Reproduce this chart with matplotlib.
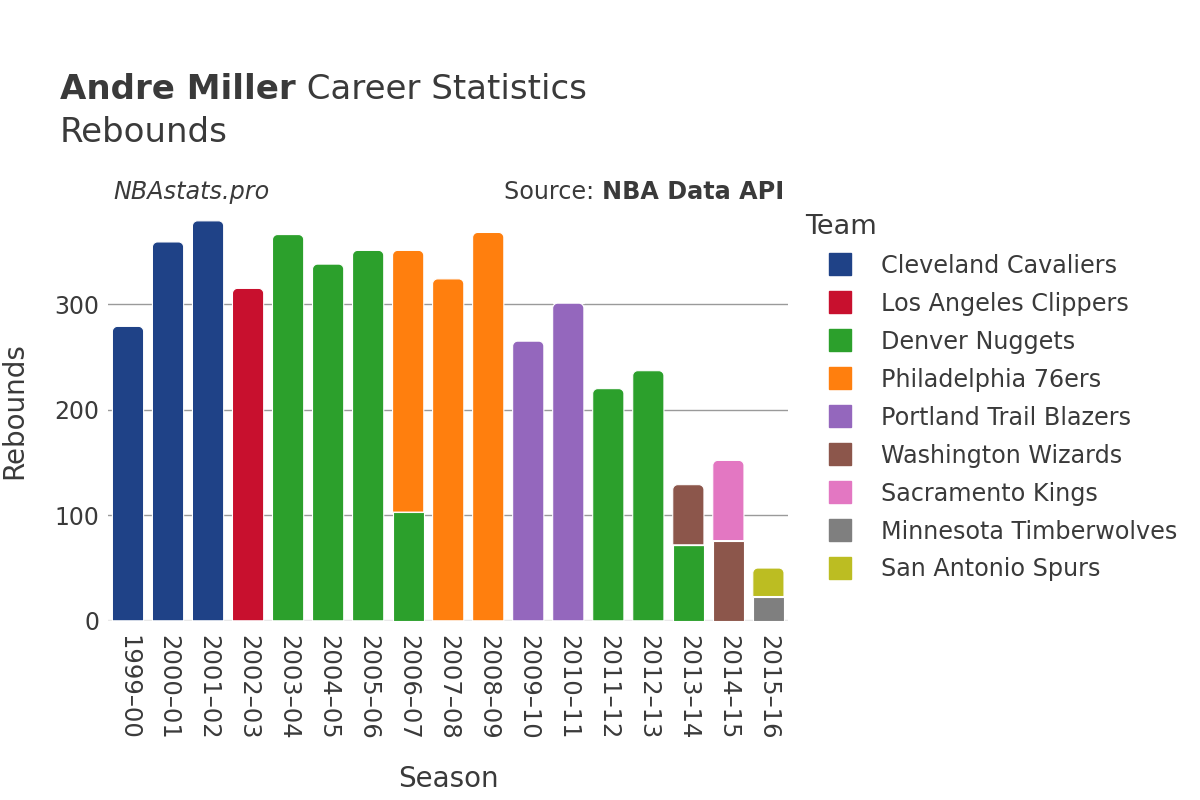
import matplotlib
matplotlib.use("Agg")
import matplotlib.pyplot as plt
from matplotlib.path import Path
from matplotlib.patches import PathPatch
from matplotlib.lines import Line2D
import numpy as np

seasons = ["1999–00", "2000–01", "2001–02", "2002–03", "2003–04", "2004–05",
           "2005–06", "2006–07", "2007–08", "2008–09", "2009–10", "2010–11",
           "2011–12", "2012–13", "2013–14", "2014–15", "2015–16"]
teams = ["Cleveland Cavaliers", "Los Angeles Clippers", "Denver Nuggets",
         "Philadelphia 76ers", "Portland Trail Blazers", "Washington Wizards",
         "Sacramento Kings", "Minnesota Timberwolves", "San Antonio Spurs"]
colors = ["#1f4287", "#c8102e", "#2ca02c", "#ff7f0e", "#9467bd",
          "#8c564b", "#e377c2", "#7f7f7f", "#bcbd22"]

cleveland = [279, 359, 379, 0, 0, 0, 0, 0, 0, 0, 0, 0, 0, 0, 0, 0, 0]
clippers = [0, 0, 0, 315, 0, 0, 0, 0, 0, 0, 0, 0, 0, 0, 0, 0, 0]
denver = [0, 0, 0, 0, 366, 338, 351, 103, 0, 0, 0, 0, 220, 237, 72, 0, 0]
philadelphia = [0, 0, 0, 0, 0, 0, 0, 248, 324, 368, 0, 0, 0, 0, 0, 0, 0]
portland = [0, 0, 0, 0, 0, 0, 0, 0, 0, 0, 265, 301, 0, 0, 0, 0, 0]
washington = [0, 0, 0, 0, 0, 0, 0, 0, 0, 0, 0, 0, 0, 0, 57, 76, 0]
sacramento = [0, 0, 0, 0, 0, 0, 0, 0, 0, 0, 0, 0, 0, 0, 0, 76, 0]
minnesota = [0, 0, 0, 0, 0, 0, 0, 0, 0, 0, 0, 0, 0, 0, 0, 0, 23]
san_antonio = [0, 0, 0, 0, 0, 0, 0, 0, 0, 0, 0, 0, 0, 0, 0, 0, 27]

series = [cleveland, clippers, denver, philadelphia, portland,
          washington, sacramento, minnesota, san_antonio]

TXT = "#3a3a3a"
plt.rcParams['font.family'] = ['DejaVu Sans']

fig = plt.figure(figsize=(12, 8), dpi=100)
ax = fig.add_axes([0.09, 0.224, 0.567, 0.525])

x = np.arange(len(seasons))
bottom = np.zeros(len(seasons))
width = 0.78
rects_by_bar = [[] for _ in seasons]
for vals, col in zip(series, colors):
    v = np.array(vals, dtype=float)
    bars = ax.bar(x, v, width=width, bottom=bottom, color=col,
                  edgecolor="white", linewidth=0.8, zorder=3)
    for i, r in enumerate(bars):
        if v[i] > 0:
            rects_by_bar[i].append(r)
    bottom += v

ax.set_xlim(-0.5, len(seasons) - 0.5)
ax.set_ylim(0, 398)

# round top corners of the topmost segment in each stack
fig.canvas.draw()
inv = ax.transData.inverted()
rpx = 5.0
for stack in rects_by_bar:
    if not stack:
        continue
    r = stack[-1]
    x0, y0 = r.get_x(), r.get_y()
    w, h = r.get_width(), r.get_height()
    p0 = ax.transData.transform((0, 0))
    p1 = inv.transform((p0[0] + rpx, p0[1] + rpx))
    rx, ry = p1[0], p1[1]
    ry = min(ry, h / 2)
    k = 0.55
    verts = [(x0, y0), (x0 + w, y0), (x0 + w, y0 + h - ry),
             (x0 + w, y0 + h - ry + k * ry), (x0 + w - rx + k * rx, y0 + h), (x0 + w - rx, y0 + h),
             (x0 + rx, y0 + h),
             (x0 + rx - k * rx, y0 + h), (x0, y0 + h - ry + k * ry), (x0, y0 + h - ry),
             (x0, y0)]
    codes = [Path.MOVETO, Path.LINETO, Path.LINETO,
             Path.CURVE4, Path.CURVE4, Path.CURVE4,
             Path.LINETO,
             Path.CURVE4, Path.CURVE4, Path.CURVE4,
             Path.CLOSEPOLY]
    patch = PathPatch(Path(verts, codes), facecolor=r.get_facecolor(),
                      edgecolor="white", linewidth=0.8, zorder=3)
    r.set_visible(False)
    ax.add_patch(patch)

for s in ax.spines.values():
    s.set_visible(False)
ax.set_yticks([0, 100, 200, 300])
ax.yaxis.grid(True, color="#9a9a9a", linewidth=1, zorder=0)
ax.axhline(0, color="#e8e8e8", linewidth=2.5, zorder=2)
ax.tick_params(axis="y", length=0, labelsize=17, colors=TXT, pad=6)
ax.tick_params(axis="x", length=0, labelsize=17.5, colors=TXT, pad=10)
ax.set_xticks(x)
ax.set_xticklabels(seasons, rotation=-90)
ax.set_xlabel("Season", fontsize=20, color=TXT, labelpad=18)
ax.set_ylabel("Rebounds", fontsize=20, color=TXT)
ax.yaxis.set_label_coords(-0.117, 0.5)

# titles
t1 = fig.text(60 / 1200, 1 - 99 / 800, "Andre Miller", fontsize=24.5,
              fontweight="bold", color=TXT, va="baseline")
fig.canvas.draw()
ax.annotate(" Career Statistics", xy=(1, 0), xycoords=t1, fontsize=24.5,
            color=TXT, va="bottom", annotation_clip=False)
fig.text(60 / 1200, 1 - 142 / 800, "Rebounds", fontsize=24.5, color=TXT,
         va="baseline")
fig.text(113 / 1200, 1 - 199 / 800, "NBAstats.pro", fontsize=17.2,
         style="italic", color=TXT, va="baseline")
t2 = fig.text(784 / 1200, 1 - 199 / 800, "NBA Data API", fontsize=17.2,
              fontweight="bold", color=TXT, va="baseline", ha="right")
fig.canvas.draw()
ax.annotate("Source: ", xy=(0, 0), xycoords=t2, fontsize=17.2, color=TXT,
            va="bottom", ha="right", annotation_clip=False)

handles = [Line2D([0], [0], marker="s", linestyle="none", markersize=16,
                  markerfacecolor=c, markeredgecolor=c) for c in colors]
leg = fig.legend(handles, teams, title="Team", loc="upper left",
                 bbox_to_anchor=(788 / 1200, 1 - 197 / 800), frameon=False,
                 fontsize=17.2, title_fontsize=19.5, labelspacing=0.585,
                 handlelength=2.93, handletextpad=0.25, borderpad=0.2)
leg._legend_box.align = "left"
for t in leg.get_texts():
    t.set_color(TXT)
leg.get_title().set_color(TXT)

fig.savefig("out.png", dpi=100, facecolor="white")
